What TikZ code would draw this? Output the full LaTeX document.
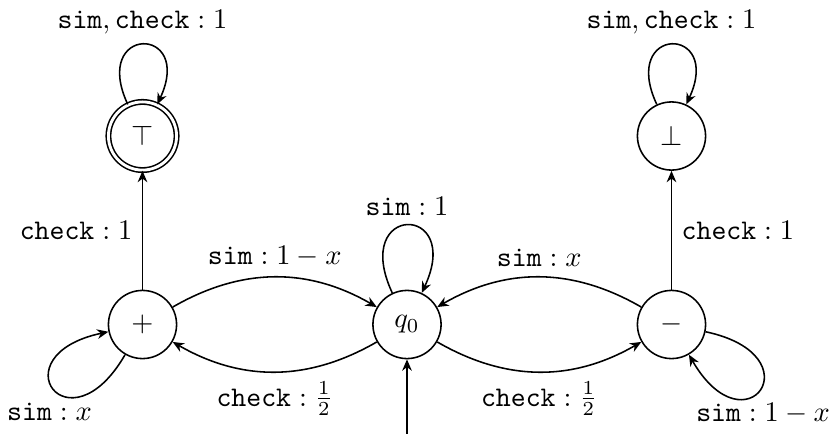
\documentclass[tikz,border=0pt]{standalone}
\usetikzlibrary{arrows.meta}
\begin{document}
\begin{tikzpicture}[x=0.3521pt,y=-0.3521pt,
  line width=0.55pt,
  stateshape/.style={circle,draw,minimum size=24pt,inner sep=0pt},
  finalshape/.style={stateshape,double,double distance=1pt},
  edge/.style={-{Stealth[length=4pt,width=3.4pt]}},
  bigloop/.style={loop,min distance=#1}]
\useasboundingbox (0,0) rectangle (829,434);
% states
\node[finalshape] (top)   at (142.5,136)   {$\top$};
\node[stateshape] (bot)   at (671.5,136)   {$\bot$};
\node[stateshape] (plus)  at (142.5,324.5) {$+$};
\node[stateshape] (q0)    at (407,324.5)   {$q_0$};
\node[stateshape] (minus) at (671.5,324.5) {$-$};
\coordinate (init) at (407,434);
% initial arrow
\draw[edge] (init) -- (q0);
% straight transitions
\draw[edge] (plus) -- node[left] {$\mathtt{check}:1$} (top);
\draw[edge] (minus) -- node[right] {$\mathtt{check}:1$} (bot);
% curved transitions
\draw[edge] (plus) to[bend left=30] node[above] {$\mathtt{sim}:1-x$} (q0);
\draw[edge] (q0) to[bend left=30] node[below] {$\mathtt{check}:\frac{1}{2}$} (plus);
\draw[edge] (minus) to[bend right=30] node[above] {$\mathtt{sim}:x$} (q0);
\draw[edge] (q0) to[bend right=30] node[below] {$\mathtt{check}:\frac{1}{2}$} (minus);
% self loops
\draw[edge] (top) to[out=115,in=65,bigloop=31pt] node[above] {$\mathtt{sim},\mathtt{check}:1$} (top);
\draw[edge] (bot) to[out=115,in=65,bigloop=31pt] node[above] {$\mathtt{sim},\mathtt{check}:1$} (bot);
\draw[edge] (q0) to[out=115,in=65,bigloop=35pt] node[above] {$\mathtt{sim}:1$} (q0);
\draw[edge] (plus) to[out=240,in=192,bigloop=40pt] node[below,xshift=-1.5pt,yshift=-1.5pt] {$\mathtt{sim}:x$} (plus);
\draw[edge] (minus) to[out=-12,in=-60,bigloop=40pt] node[below,xshift=1pt,yshift=-1.5pt] {$\mathtt{sim}:1-x$} (minus);
\end{tikzpicture}
\end{document}
